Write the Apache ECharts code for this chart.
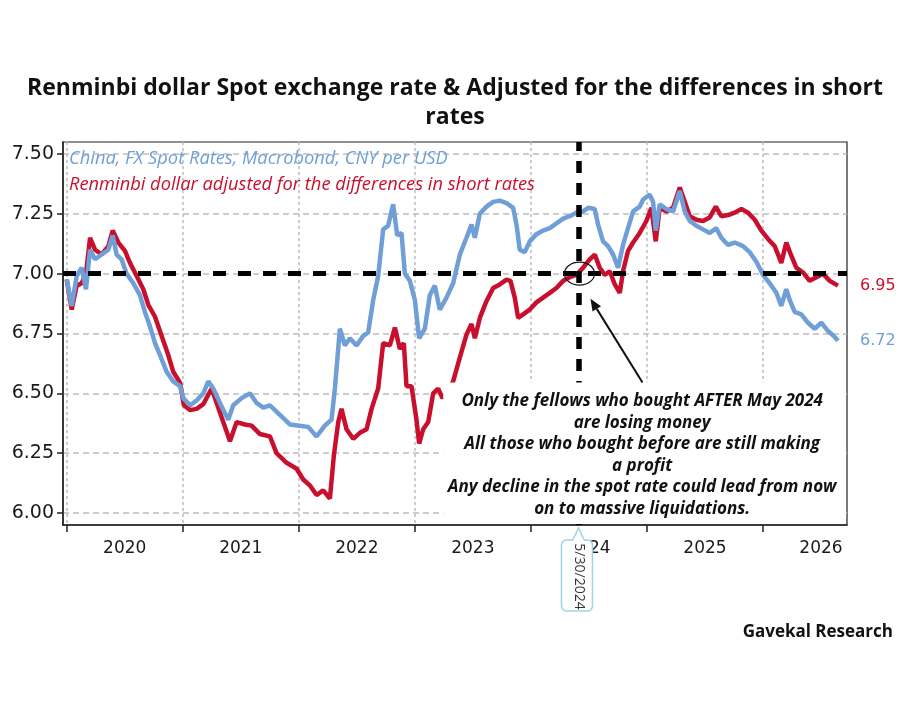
<!DOCTYPE html>
<html>
<head>
<meta charset="utf-8">
<script src="https://cdn.jsdelivr.net/npm/echarts@6/dist/echarts.min.js"></script>
<style>
  html, body { margin: 0; padding: 0; background: #ffffff; }
  #chart { width: 910px; height: 720px; }
</style>
</head>
<body>
<div id="chart"></div>
<script>
// ---------------- DATA (decimal years, CNY per USD) ----------------
const spotT = [
  2020.000, 2020.043, 2020.086, 2020.129, 2020.166, 2020.201, 2020.244, 2020.301, 2020.359, 2020.396,
  2020.430, 2020.473, 2020.516, 2020.574, 2020.631, 2020.674, 2020.717, 2020.761, 2020.804, 2020.861,
  2020.918, 2020.976, 2021.005, 2021.062, 2021.119, 2021.177, 2021.220, 2021.263, 2021.320, 2021.392,
  2021.435, 2021.507, 2021.579, 2021.636, 2021.694, 2021.751, 2021.837, 2021.923, 2022.004, 2022.081,
  2022.153, 2022.225, 2022.282, 2022.311, 2022.354, 2022.397, 2022.440, 2022.498, 2022.555, 2022.598,
  2022.641, 2022.684, 2022.727, 2022.770, 2022.813, 2022.848, 2022.885, 2022.914, 2022.957, 2023.000,
  2023.037, 2023.086, 2023.129, 2023.172, 2023.215, 2023.273, 2023.330, 2023.388, 2023.445, 2023.488,
  2023.517, 2023.560, 2023.617, 2023.675, 2023.732, 2023.790, 2023.847, 2023.876, 2023.904, 2023.947,
  2023.990, 2024.048, 2024.105, 2024.163, 2024.220, 2024.278, 2024.335, 2024.392, 2024.450, 2024.493,
  2024.550, 2024.579, 2024.622, 2024.665, 2024.708, 2024.751, 2024.794, 2024.837, 2024.881, 2024.938,
  2024.967, 2025.024, 2025.053, 2025.076, 2025.110, 2025.168, 2025.225, 2025.283, 2025.326, 2025.369,
  2025.426, 2025.483, 2025.541, 2025.598, 2025.641, 2025.699, 2025.756, 2025.828, 2025.885, 2025.943,
  2026.000, 2026.058, 2026.115, 2026.158, 2026.201, 2026.230, 2026.273, 2026.330, 2026.388, 2026.445,
  2026.503, 2026.560, 2026.610, 2026.646
];
const spotV = [
  6.976, 6.865, 6.99, 7.025, 6.935, 7.10, 7.06, 7.08, 7.10, 7.16,
  7.08, 7.06, 7.00, 6.96, 6.91, 6.84, 6.78, 6.71, 6.66, 6.59,
  6.55, 6.53, 6.48, 6.45, 6.47, 6.50, 6.55, 6.52, 6.46, 6.39,
  6.45, 6.48, 6.50, 6.46, 6.44, 6.45, 6.41, 6.37, 6.365, 6.36,
  6.32, 6.365, 6.39, 6.52, 6.77, 6.70, 6.73, 6.70, 6.74, 6.755,
  6.89, 6.99, 7.185, 7.20, 7.29, 7.16, 7.17, 7.00, 6.97, 6.89,
  6.73, 6.77, 6.91, 6.95, 6.85, 6.90, 6.96, 7.08, 7.15, 7.205,
  7.15, 7.25, 7.28, 7.30, 7.305, 7.295, 7.275, 7.205, 7.10, 7.09,
  7.135, 7.165, 7.18, 7.19, 7.21, 7.23, 7.24, 7.255, 7.26, 7.275,
  7.27, 7.205, 7.135, 7.115, 7.08, 7.025, 7.12, 7.19, 7.26, 7.28,
  7.31, 7.33, 7.30, 7.18, 7.29, 7.27, 7.26, 7.345, 7.26, 7.22,
  7.20, 7.185, 7.17, 7.19, 7.15, 7.12, 7.13, 7.115, 7.09, 7.05,
  6.995, 6.96, 6.92, 6.865, 6.935, 6.89, 6.84, 6.83, 6.795, 6.77,
  6.795, 6.76, 6.74, 6.72
];
const adjT = [
  2020.000, 2020.043, 2020.086, 2020.129, 2020.166, 2020.201, 2020.244, 2020.301, 2020.359, 2020.396,
  2020.445, 2020.502, 2020.545, 2020.603, 2020.660, 2020.703, 2020.761, 2020.818, 2020.875, 2020.918,
  2020.976, 2021.010, 2021.062, 2021.119, 2021.177, 2021.249, 2021.292, 2021.349, 2021.407, 2021.464,
  2021.536, 2021.593, 2021.665, 2021.751, 2021.808, 2021.895, 2021.981, 2022.038, 2022.096, 2022.153,
  2022.210, 2022.268, 2022.302, 2022.340, 2022.368, 2022.411, 2022.469, 2022.526, 2022.584, 2022.627,
  2022.684, 2022.727, 2022.785, 2022.828, 2022.871, 2022.905, 2022.928, 2022.971, 2023.014, 2023.037,
  2023.072, 2023.115, 2023.158, 2023.201, 2023.238, 2023.273, 2023.330, 2023.388, 2023.445, 2023.488,
  2023.517, 2023.560, 2023.617, 2023.675, 2023.732, 2023.790, 2023.824, 2023.861, 2023.890, 2023.933,
  2023.990, 2024.048, 2024.105, 2024.163, 2024.220, 2024.278, 2024.335, 2024.392, 2024.450, 2024.507,
  2024.550, 2024.593, 2024.636, 2024.680, 2024.723, 2024.766, 2024.794, 2024.837, 2024.881, 2024.938,
  2024.995, 2025.038, 2025.076, 2025.110, 2025.168, 2025.225, 2025.283, 2025.326, 2025.369, 2025.426,
  2025.483, 2025.541, 2025.593, 2025.641, 2025.699, 2025.756, 2025.814, 2025.871, 2025.929, 2025.986,
  2026.043, 2026.101, 2026.158, 2026.201, 2026.244, 2026.287, 2026.345, 2026.402, 2026.460, 2026.517,
  2026.575, 2026.646
];
const adjV = [
  6.976, 6.85, 6.95, 6.96, 7.00, 7.15, 7.10, 7.08, 7.115, 7.18,
  7.13, 7.095, 7.045, 6.99, 6.935, 6.87, 6.82, 6.74, 6.66, 6.59,
  6.545, 6.45, 6.43, 6.435, 6.455, 6.52, 6.46, 6.38, 6.30, 6.38,
  6.37, 6.365, 6.33, 6.32, 6.25, 6.21, 6.185, 6.14, 6.115, 6.075,
  6.095, 6.06, 6.24, 6.38, 6.435, 6.35, 6.31, 6.335, 6.35, 6.435,
  6.52, 6.71, 6.70, 6.775, 6.685, 6.71, 6.53, 6.53, 6.39, 6.29,
  6.35, 6.38, 6.50, 6.52, 6.48, 6.50, 6.55, 6.65, 6.745, 6.79,
  6.73, 6.815, 6.885, 6.94, 6.955, 6.975, 6.97, 6.90, 6.815, 6.83,
  6.85, 6.88, 6.90, 6.92, 6.94, 6.97, 6.985, 6.995, 7.025, 7.06,
  7.08, 7.025, 6.995, 7.01, 6.955, 6.92, 7.01, 7.095, 7.13, 7.17,
  7.22, 7.275, 7.135, 7.275, 7.26, 7.275, 7.36, 7.30, 7.24, 7.225,
  7.22, 7.235, 7.28, 7.24, 7.245, 7.255, 7.27, 7.255, 7.225, 7.18,
  7.145, 7.115, 7.045, 7.13, 7.075, 7.025, 7.005, 6.97, 6.985, 7.00,
  6.97, 6.95
];
const seriesNames = [
  'China, FX Spot Rates, Macrobond, CNY per USD',
  'Renminbi dollar adjusted for the differences in short rates'
];
const yearTicks = [2020, 2021, 2022, 2023, 2024, 2025, 2026];
const yearLabelPos = [2020.5, 2021.5, 2022.5, 2023.5, 2024.5, 2025.5, 2026.5];
const yTicks = [6.00, 6.25, 6.50, 6.75, 7.00, 7.25, 7.50];
const refLevel = 7.00;
const refDate = 2024.41;         // 5/30/2024
const refDateLabel = '5/30/2024';
const titleText = 'Renminbi dollar Spot exchange rate & Adjusted for the differences in short\nrates';
const noteText = 'Only the fellows who bought AFTER May 2024\nare losing money\nAll those who bought before are still making\na profit\nAny decline in the spot rate could lead from now\non to massive liquidations.';
const sourceText = 'Gavekal Research';

// ---------------- STYLE ----------------
const BLUE = '#6f9fd6';
const RED = '#c8102e';
const GRID = '#bdbdbd';
const FONT = '"Open Sans", "Noto Sans", sans-serif';
const NUMFONT = '"DejaVu Sans", "Open Sans", sans-serif';

const zip = (a, b) => a.map((t, i) => [t, b[i]]);

const chart = echarts.init(document.getElementById('chart'), null, { renderer: 'canvas' });

const option = {
  backgroundColor: '#ffffff',
  animation: false,
  title: {
    text: titleText,
    left: 'center',
    top: 69,
    textStyle: {
      fontFamily: '"Liberation Sans Narrow", "Open Sans", sans-serif',
      fontWeight: 'bold',
      fontSize: 23,
      lineHeight: 29,
      color: '#111'
    }
  },
  legend: {
    orient: 'vertical',
    left: 59,
    top: 145,
    icon: 'none',
    itemWidth: 0,
    itemHeight: 0,
    itemGap: 8,
    selectedMode: false,
    data: [
      { name: seriesNames[0], textStyle: { color: BLUE } },
      { name: seriesNames[1], textStyle: { color: RED } }
    ],
    textStyle: { fontFamily: FONT, fontStyle: 'italic', fontSize: 18.3, padding: [0, 0, 0, 0] }
  },
  grid: {
    left: 63, right: 63, top: 142, bottom: 195,
    show: true, borderColor: '#222', borderWidth: 1.2, backgroundColor: 'transparent',
    containLabel: false
  },
  xAxis: {
    type: 'value',
    min: 2019.968,
    max: 2026.724,
    axisLine: { show: true, onZero: false, lineStyle: { color: '#222', width: 1.5 } },
    axisTick: { show: true, customValues: yearTicks, length: 7, lineStyle: { color: '#222', width: 1.5 } },
    axisLabel: {
      customValues: yearLabelPos,
      formatter: v => String(Math.floor(v)),
      margin: 15,
      fontFamily: NUMFONT, fontSize: 17, color: '#1a1a1a'
    },
    splitLine: { show: true, lineStyle: { color: GRID, width: 1.5, type: [3, 3] } }
  },
  yAxis: {
    type: 'value',
    min: 5.95,
    max: 7.55,
    axisLine: { show: true, lineStyle: { color: '#222', width: 1.5 } },
    axisTick: { show: true, customValues: yTicks, length: 6, lineStyle: { color: '#222', width: 1.5 } },
    axisLabel: {
      customValues: yTicks,
      formatter: v => v.toFixed(2),
      margin: 9,
      fontFamily: NUMFONT, fontSize: 19, color: '#1a1a1a'
    },
    splitLine: { show: true, lineStyle: { color: GRID, width: 1.5, type: [6, 4] } }
  },
  series: [
    {
      name: seriesNames[1],
      type: 'line',
      data: zip(adjT, adjV),
      showSymbol: false,
      lineStyle: { color: RED, width: 4.5 },
      itemStyle: { color: RED },
      z: 2,
      endLabel: {
        show: true, distance: 22,
        formatter: p => p.value[1].toFixed(2),
        color: RED, fontFamily: NUMFONT, fontSize: 16
      },
      markLine: {
        silent: true,
        symbol: 'none',
        label: { show: false },
        z: 6,
        data: [
          { yAxis: refLevel, lineStyle: { color: '#000', width: 5, type: [13, 12] } },
          { xAxis: refDate, lineStyle: { color: '#000', width: 5.5, type: [12, 10] } }
        ]
      }
    },
    {
      name: seriesNames[0],
      type: 'line',
      data: zip(spotT, spotV),
      showSymbol: false,
      lineStyle: { color: BLUE, width: 4.5 },
      itemStyle: { color: BLUE },
      z: 3,
      endLabel: {
        show: true, distance: 22,
        formatter: p => p.value[1].toFixed(2),
        color: BLUE, fontFamily: NUMFONT, fontSize: 16
      }
    }
  ]
};
chart.setOption(option);

// ---------------- annotations anchored to data ----------------
const [cx, cy] = chart.convertToPixel({ gridIndex: 0 }, [refDate, refLevel]);
const plotRight = chart.convertToPixel({ gridIndex: 0 }, [2026.724, 5.95]);
const boxTop = chart.convertToPixel({ gridIndex: 0 }, [2023, 6.545])[1];
const boxLeft = chart.convertToPixel({ gridIndex: 0 }, [2023.245, 6])[0];
const axisY = plotRight[1];

const tip = [cx + 12, cy + 25];
const tail = [cx + 64, boxTop];
const dx = tip[0] - tail[0], dy = tip[1] - tail[1];
const len = Math.hypot(dx, dy);
const ux = dx / len, uy = dy / len;
const headL = 12, headW = 5;
const hb = [tip[0] - ux * headL, tip[1] - uy * headL];
const head = [
  tip,
  [hb[0] - uy * headW, hb[1] + ux * headW],
  [hb[0] + uy * headW, hb[1] - ux * headW]
];

const calloutTopY = axisY + 3;
const bx0 = cx - 17, bx1 = cx + 14, by0 = axisY + 15, by1 = axisY + 86;

chart.setOption({
  graphic: [
    {
      type: 'rect', z: 100, silent: true,
      shape: { x: boxLeft, y: boxTop, width: plotRight[0] - boxLeft - 1, height: axisY - boxTop - 1 },
      style: { fill: '#ffffff', stroke: null }
    },
    {
      type: 'text', z: 101, silent: true,
      x: (boxLeft + plotRight[0]) / 2 - 3, y: boxTop + 8,
      style: {
        text: noteText, align: 'center', verticalAlign: 'top',
        fontFamily: FONT, fontStyle: 'italic', fontWeight: 'bold',
        fontSize: 17, lineHeight: 21.5, fill: '#111'
      }
    },
    {
      type: 'ellipse', z: 102, silent: true,
      shape: { cx: cx + 1, cy: cy, rx: 15, ry: 11.5 },
      style: { fill: null, stroke: '#111', lineWidth: 1.2 }
    },
    {
      type: 'line', z: 102, silent: true,
      shape: { x1: tail[0], y1: tail[1], x2: hb[0], y2: hb[1] },
      style: { stroke: '#111', lineWidth: 2 }
    },
    {
      type: 'polygon', z: 102, silent: true,
      shape: { points: head },
      style: { fill: '#111' }
    },
    {
      type: 'rect', z: 102, silent: true,
      shape: { x: bx0, y: by0, width: bx1 - bx0, height: by1 - by0, r: 5 },
      style: { fill: '#ffffff', stroke: '#9fd2e4', lineWidth: 1.5 }
    },
    {
      type: 'polyline', z: 102, silent: true,
      shape: { points: [[cx - 6, by0 + 0.8], [cx, calloutTopY], [cx + 6, by0 + 0.8]] },
      style: { stroke: '#9fd2e4', lineWidth: 1.5, fill: '#ffffff' }
    },
    {
      type: 'line', z: 102, silent: true,
      shape: { x1: cx - 5, y1: by0, x2: cx + 5, y2: by0 },
      style: { stroke: '#ffffff', lineWidth: 2 }
    },
    {
      type: 'text', z: 103, silent: true,
      x: cx + 1, y: (by0 + by1) / 2 + 1,
      rotation: -Math.PI / 2,
      style: {
        text: refDateLabel, align: 'center', verticalAlign: 'middle',
        fontFamily: FONT, fontSize: 14, fill: '#333'
      }
    },
    {
      type: 'text', z: 100, silent: true,
      right: 17, top: 624,
      style: {
        text: sourceText, fontFamily: FONT, fontWeight: 'bold',
        fontSize: 17, fill: '#111'
      }
    }
  ]
});
</script>
</body>
</html>
